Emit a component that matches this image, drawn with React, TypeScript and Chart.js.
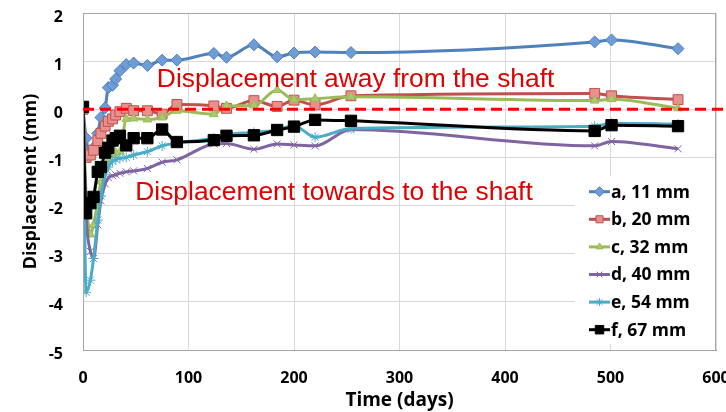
import React, { useEffect, useRef } from "react";
import { Chart, registerables } from "chart.js";
import { drawPoint } from "chart.js/helpers";

Chart.register(...registerables);

const days = [0, 3, 7, 10, 14, 17, 21, 24, 28, 31, 35, 41, 48, 61, 75, 89, 124, 136, 162, 184, 200, 220, 254, 485, 501, 564];
const seriesA = [0, -0.6, -0.95, -0.8, -0.5, -0.17, 0.03, 0.45, 0.5, 0.63, 0.8, 0.93, 0.96, 0.91, 1.02, 1.02, 1.16, 1.08, 1.34, 1.09, 1.17, 1.19, 1.18, 1.4, 1.44, 1.26];
const seriesB = [0, -1.0, -0.95, -0.85, -0.65, -0.5, -0.35, -0.25, -0.2, -0.12, -0.05, 0.02, -0.03, -0.03, -0.1, 0.1, 0.07, 0.02, 0.18, 0.06, 0.19, 0.09, 0.28, 0.33, 0.28, 0.2];
const seriesC = [0, -1.8, -2.6, -2.4, -1.9, -1.5, -1.2, -1.05, -0.95, -0.9, -0.88, -0.2, -0.19, -0.21, -0.17, -0.03, -0.1, 0.07, 0.08, 0.4, 0.2, 0.22, 0.26, 0.18, 0.21, 0.02];
const seriesD = [0, -2.2, -2.95, -3.1, -2.4, -1.9, -1.55, -1.42, -1.38, -1.36, -1.33, -1.3, -1.28, -1.23, -1.1, -1.05, -0.72, -0.71, -0.83, -0.72, -0.74, -0.76, -0.42, -0.76, -0.67, -0.82];
const seriesE = [0, -3.8, -3.55, -3.1, -2.3, -1.8, -1.35, -1.2, -1.08, -1.04, -1.02, -1.0, -0.95, -0.88, -0.76, -0.7, -0.6, -0.53, -0.48, -0.43, -0.34, -0.58, -0.4, -0.35, -0.29, -0.31];
const seriesF = [0.05, -2.16, -1.95, -1.82, -1.3, -1.2, -0.9, -0.8, -0.65, -0.6, -0.55, -0.75, -0.6, -0.6, -0.42, -0.68, -0.64, -0.55, -0.54, -0.43, -0.36, -0.22, -0.24, -0.45, -0.33, -0.35];

const seriesLabels = ["a, 11 mm", "b, 20 mm", "c, 32 mm", "d, 40 mm", "e, 54 mm", "f, 67 mm"];
const xTicks = [0, 100, 200, 300, 400, 500, 600];
const yTicks = [-5, -4, -3, -2, -1, 0, 1, 2];
const xTitle = "Time (days)";
const yTitle = "Displacement (mm)";
const noteAway = "Displacement away from the shaft";
const noteTowards = "Displacement towards to the shaft";
const noteAwayAt = { x: 70, y: 0.47 };
const noteTowardsAt = { x: 49.5, y: -1.88 };

const styles = [
  { line: "#4f81bd", fill: "#6f9bd6", point: "rectRot", r: 6, lr: 5 },
  { line: "#c0504d", fill: "#e8908e", point: "rect", r: 7, lr: 5 },
  { line: "#9bbb59", fill: "#a9c96b", point: "triangle", r: 5, lr: 4 },
  { line: "#8064a2", fill: "#8064a2", point: "crossRot", r: 5, lr: 4 },
  { line: "#4bacc6", fill: "#4bacc6", point: "star", r: 5, lr: 4 },
  { line: "#000000", fill: "#000000", point: "rect", r: 8, lr: 6 },
];

const allSeries = [seriesA, seriesB, seriesC, seriesD, seriesE, seriesF];
const FONT = "'Open Sans', sans-serif";

const overlayPlugin = {
  id: "overlay",
  afterDatasetsDraw(chart: any) {
    const { ctx, chartArea, scales } = chart;
    const xs = scales.x;
    const ys = scales.y;
    ctx.save();
    ctx.strokeStyle = "#a6a6a6";
    ctx.lineWidth = 1;
    ctx.strokeRect(chartArea.left + 0.5, chartArea.top + 0.5, chartArea.right - chartArea.left - 1, chartArea.bottom - chartArea.top);
    const y0 = ys.getPixelForValue(0);
    ctx.strokeStyle = "#ff0000";
    ctx.lineWidth = 3;
    ctx.setLineDash([11, 6]);
    ctx.beginPath();
    ctx.moveTo(chartArea.left, y0);
    ctx.lineTo(chart.width, y0);
    ctx.stroke();
    ctx.setLineDash([]);
    ctx.fillStyle = "#e00000";
    ctx.font = "26.4px 'Liberation Sans', Arial, sans-serif";
    ctx.textAlign = "left";
    ctx.textBaseline = "alphabetic";
    ctx.fillText(noteAway, xs.getPixelForValue(noteAwayAt.x), ys.getPixelForValue(noteAwayAt.y));
    ctx.fillText(noteTowards, xs.getPixelForValue(noteTowardsAt.x), ys.getPixelForValue(noteTowardsAt.y));
    const lx = 575;
    const ly = 176;
    ctx.fillStyle = "#ffffff";
    ctx.fillRect(lx, ly, chartArea.right - lx - 1, 168);
    ctx.font = "bold 17.5px " + FONT;
    ctx.textBaseline = "middle";
    chart.data.datasets.forEach((ds: any, i: number) => {
      const cy = 191.7 + i * 27.6;
      ctx.strokeStyle = ds.borderColor;
      ctx.lineWidth = 3;
      ctx.beginPath();
      ctx.moveTo(589, cy);
      ctx.lineTo(610, cy);
      ctx.stroke();
      ctx.fillStyle = ds.pointBackgroundColor;
      ctx.strokeStyle = ds.pointBorderColor;
      ctx.lineWidth = 1;
      drawPoint(ctx, { pointStyle: ds.pointStyle, radius: styles[i].lr, borderWidth: 1, rotation: 0 }, 599.5, cy);
      ctx.fillStyle = "#000000";
      ctx.fillText(ds.label, 611, cy + 1);
    });
    ctx.restore();
  },
};

export default function App() {
  const ref = useRef<HTMLCanvasElement | null>(null);
  useEffect(() => {
    if (!ref.current) return;
    const datasets = allSeries.map((vals, i) => ({
      label: seriesLabels[i],
      data: days.map((d, j) => ({ x: d, y: vals[j] })),
      borderColor: styles[i].line,
      backgroundColor: styles[i].fill,
      pointBackgroundColor: styles[i].fill,
      pointBorderColor: styles[i].line,
      pointStyle: styles[i].point,
      pointRadius: styles[i].r,
      pointBorderWidth: 1,
      borderWidth: 3,
      cubicInterpolationMode: "monotone" as const,
      order: 6 - i,
    }));
    const chart = new Chart(ref.current, {
      type: "line",
      data: { datasets },
      plugins: [overlayPlugin],
      options: {
        animation: false,
        responsive: false,
        layout: { padding: { top: 13, right: 10, left: 0, bottom: 0 } },
        plugins: { legend: { display: false }, tooltip: { enabled: false } },
        scales: {
          x: {
            type: "linear",
            min: 0,
            max: 600,
            afterBuildTicks: (s: any) => {
              s.ticks = xTicks.map((v) => ({ value: v }));
            },
            afterFit: (s: any) => {
              s.height = 62;
              s.paddingLeft = 0;
              s.paddingRight = 0;
            },
            grid: { color: "#d9d9d9", drawTicks: false },
            border: { color: "#a6a6a6" },
            ticks: { color: "#000", padding: 19, font: { family: "Open Sans", weight: "bold", size: 16 }, maxRotation: 0 },
            title: { display: true, text: xTitle, color: "#000", font: { family: "Open Sans", weight: "bold", size: 19 }, padding: { top: 0, bottom: 0 } },
          },
          y: {
            type: "linear",
            min: -5,
            max: 2,
            afterBuildTicks: (s: any) => {
              s.ticks = yTicks.map((v) => ({ value: v }));
            },
            afterFit: (s: any) => {
              s.width = 83;
              s.paddingTop = 0;
              s.paddingBottom = 0;
            },
            grid: { color: "#d9d9d9", drawTicks: false },
            border: { color: "#a6a6a6" },
            ticks: { color: "#000", padding: 20, labelOffset: 4, font: { family: "Open Sans", weight: "bold", size: 16 } },
            title: { display: true, text: yTitle, color: "#000", font: { family: "Open Sans", weight: "bold", size: 18 }, padding: { top: 20, bottom: 0 } },
          },
        },
      },
    });
    return () => chart.destroy();
  }, []);
  return (
    <div style={{ position: "absolute", left: 0, top: 0, width: 726, height: 412, background: "#fff" }}>
      <canvas ref={ref} width={726} height={412} style={{ width: 726, height: 412 }} />
    </div>
  );
}
